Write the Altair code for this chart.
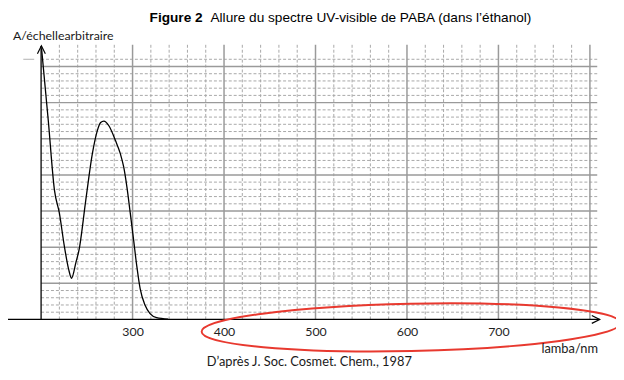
import altair as alt
import pandas as pd

# Spectrum (wavelength in nm, absorbance in arbitrary units)
wavelength_nm = [200.5, 207.9, 214.6, 220.0, 225.4, 230.1, 233.3, 238.1, 241.6, 248.9,
                 256.0, 261.4, 265.1, 268.6, 274.1, 281.3, 286.7, 290.3, 293.8, 297.5,
                 301.1, 304.6, 308.3, 313.7, 319.1, 326.3, 338.9]
absorbance = [7.5, 5.49, 3.58, 2.94, 2.03, 1.39, 1.14, 1.58, 1.94, 3.31,
              4.58, 5.22, 5.45, 5.49, 5.36, 4.95, 4.58, 4.22, 3.67, 2.94,
              2.21, 1.48, 0.85, 0.39, 0.16, 0.05, 0.01]

x_tick_labels = [300, 400, 500, 600, 700]
major_x = [300, 400, 500, 600, 700, 800]
minor_x = [220, 240, 260, 280, 320, 340, 360, 380, 420, 440, 460, 480,
           520, 540, 560, 580, 620, 640, 660, 680, 720, 740, 760, 780]
major_y = [1, 2, 3, 4, 5, 6, 7]
minor_y = [0.2, 0.4, 0.6, 0.8, 1.2, 1.4, 1.6, 1.8, 2.2, 2.4, 2.6, 2.8,
           3.2, 3.4, 3.6, 3.8, 4.2, 4.4, 4.6, 4.8, 5.2, 5.4, 5.6, 5.8,
           6.2, 6.4, 6.6, 6.8, 7.2]

title_bold = "Figure 2"
title_rest = "Allure du spectre UV-visible de PABA (dans l\u2019\u00e9thanol)"
y_title = "A/\u00e9chellearbitraire"
x_title = "lamba/nm"
source = "D\u2019apr\u00e8s J. Soc. Cosmet. Chem., 1987"

spectrum = pd.DataFrame({"nm": wavelength_nm, "A": absorbance})
one = pd.DataFrame({"k": [0]})

xscale = alt.Scale(domain=[200, 808], nice=False, zero=False)
yscale = alt.Scale(domain=[0, 7.6], nice=False, zero=False)
x_axis = alt.Axis(values=x_tick_labels, domain=False, ticks=False, grid=False,
                  labelFont="Lato", labelFontSize=12.5, labelColor="#1e1e1e",
                  labelPadding=6, title=None)

ELLIPSE = ("M -1 0 C -1 -0.0625 -0.552 -0.113 0 -0.113 "
           "C 0.552 -0.113 1 -0.0625 1 0 "
           "C 1 0.0625 0.552 0.113 0 0.113 "
           "C -0.552 0.113 -1 0.0625 -1 0 Z")

minor_v = alt.Chart(pd.DataFrame({"nm": minor_x})).mark_rule(
    color="#a8a8a8", strokeWidth=1, strokeDash=[3, 2]
).encode(x=alt.X("nm:Q", scale=xscale, axis=x_axis))

minor_h = alt.Chart(pd.DataFrame({"A": minor_y})).mark_rule(
    color="#a8a8a8", strokeWidth=1, strokeDash=[3, 2]
).encode(y=alt.Y("A:Q", scale=yscale, axis=None))

major_v = alt.Chart(pd.DataFrame({"nm": major_x})).mark_rule(
    color="#9a9a9a", strokeWidth=1.5
).encode(x=alt.X("nm:Q", scale=xscale, axis=x_axis))

major_h = alt.Chart(pd.DataFrame({"A": major_y})).mark_rule(
    color="#9a9a9a", strokeWidth=1.5
).encode(y=alt.Y("A:Q", scale=yscale, axis=None))

axis_df = pd.DataFrame({"nm": [200], "A0": [0], "A1": [7.57], "Atop": [7.2]})

x_axis_line = alt.Chart(axis_df).mark_rule(color="black", strokeWidth=1.3).encode(
    x=alt.value(-34.5), x2=alt.value(565.5),
    y=alt.Y("A0:Q", scale=yscale, axis=None))

y_axis_line = alt.Chart(axis_df).mark_rule(color="black", strokeWidth=1.3).encode(
    x=alt.X("nm:Q", scale=xscale, axis=x_axis),
    y=alt.Y("A0:Q", scale=yscale, axis=None), y2="A1:Q")

left_dash = alt.Chart(axis_df).mark_rule(color="#b0b0b0", strokeWidth=1).encode(
    x=alt.value(-18), x2=alt.value(-7),
    y=alt.Y("Atop:Q", scale=yscale, axis=None))

y_arrow = alt.Chart(one).mark_point(
    shape="M -1 1 L 0 -1 L 1 1", filled=False, color="black", opacity=1,
    size=64, strokeWidth=1.2
).encode(x=alt.value(0.3), y=alt.value(5))

x_arrow = alt.Chart(one).mark_point(
    shape="M -1 -1 L 1 0 L -1 1", filled=False, color="black", opacity=1,
    size=64, strokeWidth=1.2
).encode(x=alt.value(561.5), y=alt.value(278))

curve = alt.Chart(spectrum).mark_line(
    color="black", strokeWidth=1.3, interpolate="monotone"
).encode(
    x=alt.X("nm:Q", scale=xscale, axis=x_axis),
    y=alt.Y("A:Q", scale=yscale, axis=None),
)

ellipse = alt.Chart(one).mark_point(
    shape=ELLIPSE, filled=False, color="#e8392f", opacity=1,
    size=179776, strokeWidth=2, angle=358.8
).encode(x=alt.value(374.5), y=alt.value(286))

t_bold = alt.Chart(one).mark_text(
    text=title_bold, font="Liberation Sans", fontSize=13.8, fontWeight="bold",
    align="right", baseline="top", color="black"
).encode(x=alt.value(163.5), y=alt.value(-34.5))

t_rest = alt.Chart(one).mark_text(
    text=title_rest, font="Liberation Sans", fontSize=13.8,
    align="left", baseline="top", color="black"
).encode(x=alt.value(171.5), y=alt.value(-34.5))

t_y = alt.Chart(one).mark_text(
    text=y_title, font="Lato", fontSize=12.5, align="left", baseline="middle",
    color="#1a1a1a"
).encode(x=alt.value(-28.5), y=alt.value(-9))

t_x = alt.Chart(one).mark_text(
    text=x_title, font="Lato", fontSize=13, align="left", baseline="middle",
    color="#1a1a1a"
).encode(x=alt.value(506.5), y=alt.value(308))

t_src = alt.Chart(one).mark_text(
    text=source, font="Lato", fontSize=13, align="center", baseline="middle",
    color="#1a1a1a"
).encode(x=alt.value(271.5), y=alt.value(321))

chart = alt.layer(
    minor_v, minor_h, major_v, major_h, x_axis_line, y_axis_line, left_dash,
    y_arrow, x_arrow, curve, ellipse, t_bold, t_rest, t_y, t_x, t_src
).properties(
    width=563, height=278,
    autosize=alt.AutoSizeParams(type="none"),
    padding={"left": 33.5, "top": 35, "right": 19, "bottom": 55},
    background="white",
).configure_view(stroke=None)

chart.save("out.html", embed_options={"renderer": "svg", "actions": False})
